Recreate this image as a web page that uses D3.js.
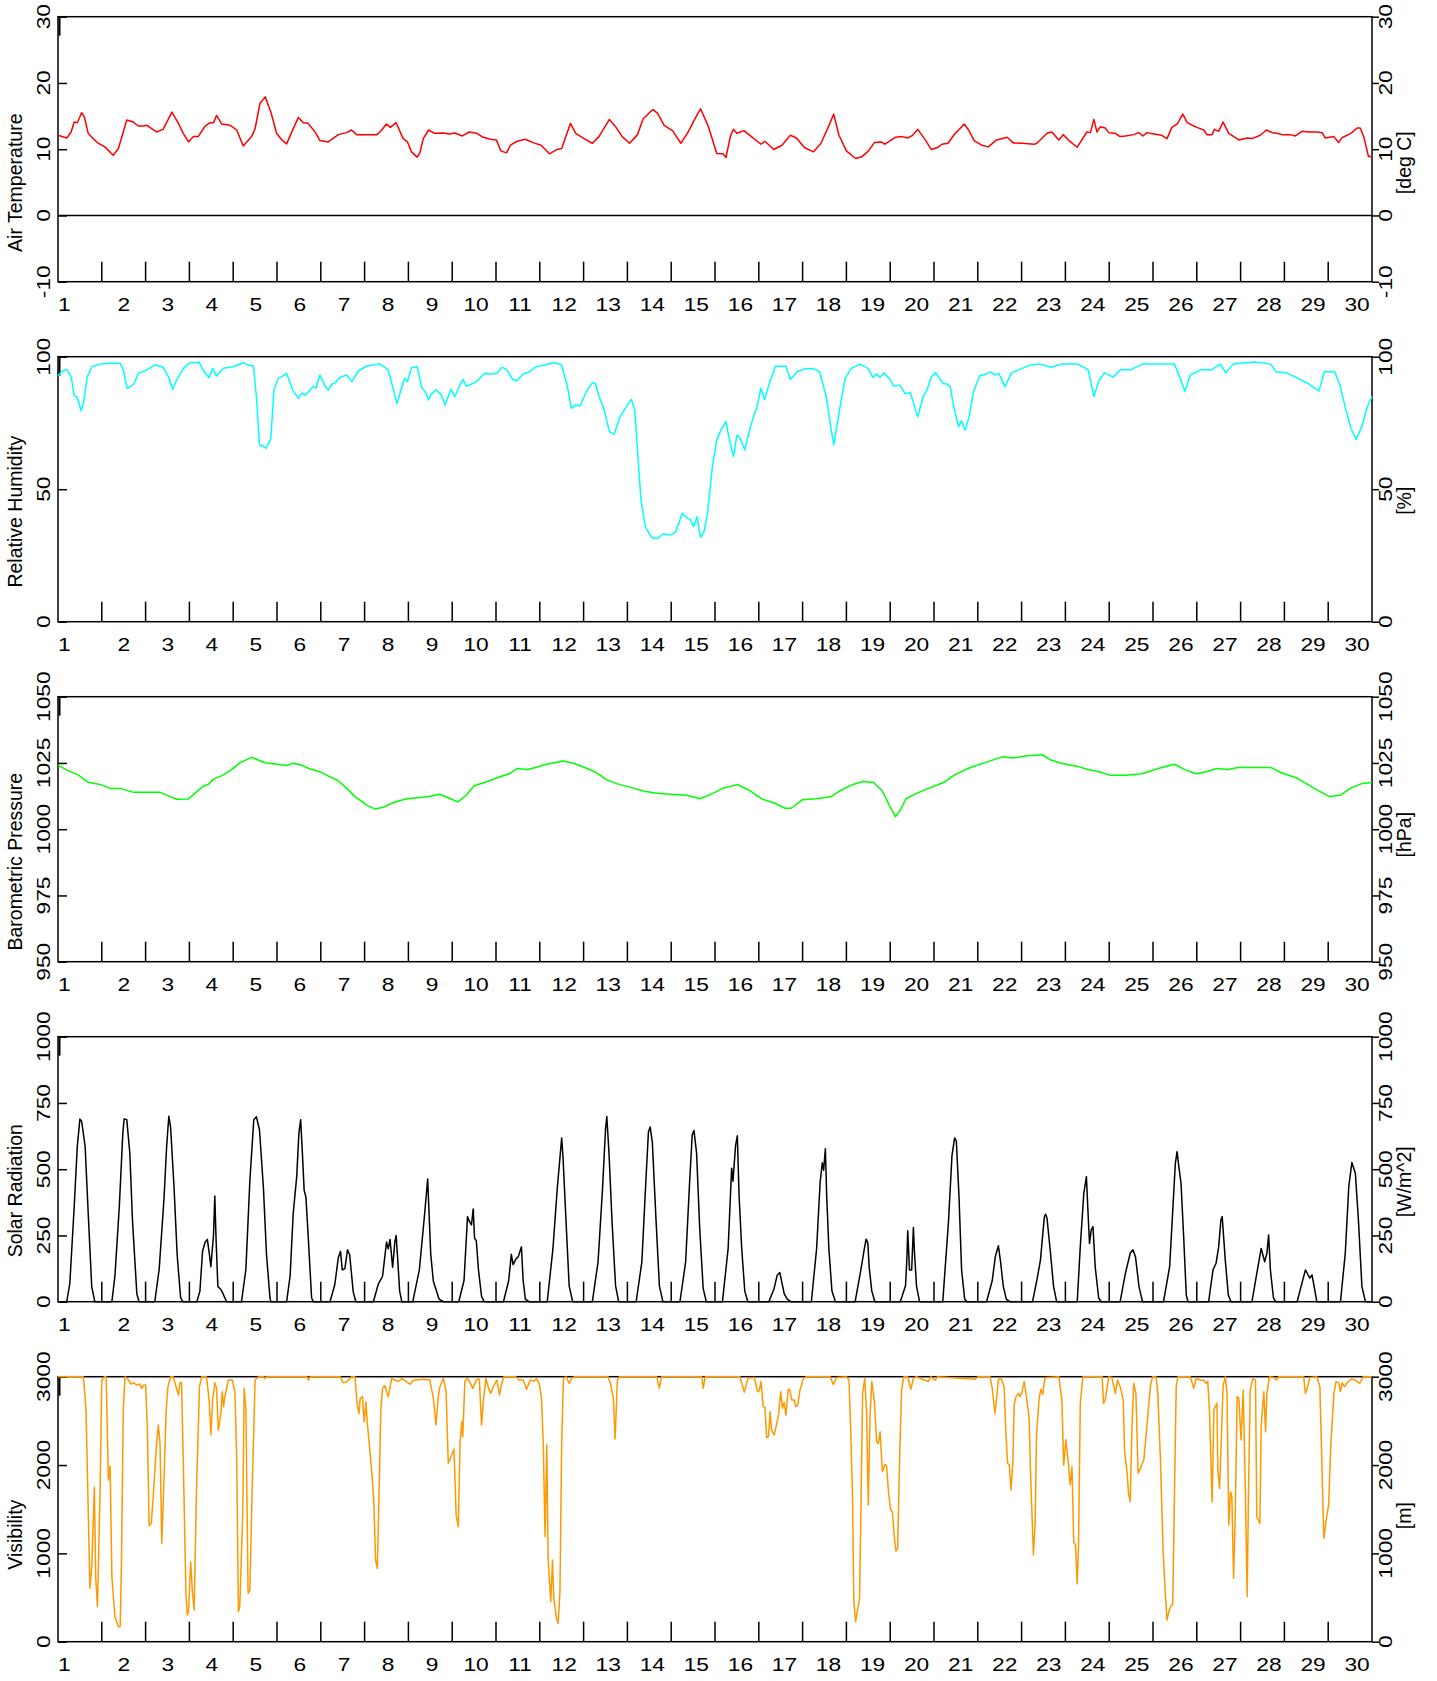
<!DOCTYPE html>
<html>
<head>
<meta charset="utf-8">
<script src="https://cdn.jsdelivr.net/npm/d3@7/dist/d3.min.js"></script>
<style>
  body { margin: 0; background: #fff; }
  svg { display: block; font-family: "Liberation Sans", Arial, sans-serif; }
</style>
</head>
<body>
<div id="chart"></div>
<script>
// time is in days of the month (1.0 = start of day 1)
const days = d3.range(1, 31);

const temperature = [[1.0,12.1],[1.2,11.7],[1.3,12.6],[1.37,14.1],[1.44,14.0],[1.54,15.5],[1.6,14.9],[1.69,12.4],[1.8,11.6],[1.92,10.9],[2.07,10.35],[2.26,9.1],[2.38,10.1],[2.57,14.4],[2.72,14.1],[2.83,13.5],[2.95,13.5],[3.03,13.6],[3.25,12.6],[3.4,13.0],[3.6,15.6],[3.75,13.9],[3.86,12.4],[3.98,11.1],[4.09,11.9],[4.2,11.9],[4.36,13.5],[4.47,14.0],[4.55,14.0],[4.62,15.1],[4.74,13.8],[4.93,13.6],[5.08,12.9],[5.23,10.5],[5.31,11.1],[5.42,11.9],[5.5,13.1],[5.61,16.9],[5.73,17.9],[5.86,15.6],[5.99,12.4],[6.11,11.4],[6.22,10.8],[6.37,13.1],[6.49,14.8],[6.6,14.0],[6.71,13.9],[6.87,12.6],[6.98,11.3],[7.17,11.1],[7.4,12.2],[7.59,12.5],[7.7,12.9],[7.82,12.2],[8.12,12.2],[8.28,12.2],
  [8.35,12.6],[8.5,13.8],[8.59,13.3],[8.72,14.0],[8.88,11.6],[8.98,11.1],[9.07,9.6],[9.2,8.8],[9.26,9.4],[9.34,11.6],[9.46,12.9],[9.6,12.4],[9.79,12.45],[9.94,12.3],[10.06,12.45],[10.23,12.0],[10.39,12.6],[10.56,12.4],[10.71,11.8],[10.87,11.5],[11.01,11.4],[11.11,9.75],[11.24,9.45],[11.33,10.6],[11.48,11.2],[11.67,11.5],[11.86,10.95],[12.03,10.6],[12.22,9.3],[12.39,9.95],[12.5,10.1],[12.7,13.9],[12.82,12.4],[13.01,11.6],[13.2,10.9],[13.35,11.9],[13.59,14.5],[13.73,13.4],[13.88,11.9],[14.05,10.9],[14.23,12.2],[14.36,14.6],[14.58,16.0],[14.69,15.4],[14.84,13.6],[15.03,12.8],[15.22,10.9],[15.37,12.4],[15.56,14.8],[15.67,16.1],[15.85,13.4],[16.04,9.35],[16.18,9.3],[16.25,8.75],[16.35,11.9],[16.42,13.0],[16.5,12.4],[16.66,12.8],[16.81,12.0],[17.05,10.75],[17.14,11.2],[17.34,9.95],[17.53,10.6],[17.72,12.1],[17.86,11.7],[18.04,10.25],[18.25,9.6],[18.42,10.9],[18.59,13.4],[18.71,15.3],[18.83,12.1],[19.0,9.75],[19.21,8.6],[19.35,8.85],[19.5,9.7],[19.64,11.0],[19.79,11.1],[19.88,10.75],[20.12,11.8],[20.27,11.9],[20.41,11.7],[20.51,12.1],[20.63,13.0],[20.8,11.4],[20.94,9.95],[21.08,10.25],[21.18,10.75],[21.32,10.9],[21.47,12.3],[21.59,13.1],[21.69,13.8],[21.79,12.9],[21.92,11.25],[22.09,10.6],[22.24,10.35],[22.43,11.4],[22.67,11.8],[22.81,10.95],[23.01,10.9],[23.29,10.75],
  [23.35,10.9],[23.58,12.4],[23.69,12.6],[23.85,11.4],[23.95,12.2],[24.08,11.3],[24.27,10.3],[24.49,12.6],[24.57,12.5],[24.65,14.5],[24.72,12.6],[24.8,13.4],[24.91,13.2],[24.99,12.5],[25.14,12.4],[25.25,11.9],[25.37,12.0],[25.56,12.2],[25.67,12.5],[25.77,12.0],[25.86,12.5],[26.02,12.3],[26.2,12.1],[26.32,11.6],[26.43,13.3],[26.55,13.8],[26.68,15.3],[26.78,14.0],[26.93,13.5],[27.0,13.3],[27.16,12.9],[27.23,12.2],[27.35,12.2],[27.4,13.0],[27.5,12.7],[27.6,14.1],[27.73,12.4],[27.96,11.4],[28.15,11.7],[28.26,11.6],[28.45,12.1],[28.59,12.9],[28.72,12.5],[28.83,12.4],[28.95,12.2],[29.13,12.2],[29.25,12.0],[29.4,12.7],[29.55,12.6],[29.74,12.6],[29.86,12.5],[29.93,11.7],[30.13,11.9],[30.24,11.0],[30.31,11.7],[30.43,12.1],[30.54,12.5],[30.66,13.2],[30.73,13.2],[30.81,11.9],[30.92,8.9],[31.0,8.9]];

const humidity = [[1.0,92.7],[1.08,94.3],[1.2,95.2],[1.3,92.5],[1.37,85.2],[1.44,84.7],[1.53,79.6],[1.58,82.4],[1.67,92.5],[1.77,96.2],[1.96,97.2],[2.19,97.5],[2.42,97.5],[2.49,95.0],[2.58,88.1],[2.68,88.9],[2.76,90.6],[2.83,93.7],[3.03,95.0],[3.22,96.9],[3.4,96.0],[3.52,92.5],[3.62,87.7],[3.71,91.2],[3.86,95.6],[4.01,97.7],[4.22,97.9],[4.36,93.7],[4.45,92.1],[4.53,95.6],[4.62,92.7],[4.77,95.6],[5.0,96.2],[5.23,97.7],[5.34,96.9],[5.46,96.5],[5.53,84.9],[5.6,66.7],[5.69,66.3],[5.75,65.4],[5.86,69.2],[5.93,87.4],[6.03,91.8],[6.11,92.5],[6.22,93.7],[6.36,87.4],[6.49,84.3],[6.56,86.2],[6.64,85.5],[6.75,87.2],[6.83,88.9],[6.89,88.1],[6.98,93.1],[7.1,88.7],[7.17,87.4],[7.25,89.6],[7.32,90.0],[7.44,92.2],[7.59,93.1],[7.71,90.6],[7.86,94.7],[8.05,96.5],[8.3,97.2],
  [8.35,97.2],[8.54,95.0],[8.74,82.4],[8.91,91.8],[8.98,90.6],[9.07,95.8],[9.2,96.2],[9.31,88.1],[9.39,86.8],[9.46,83.7],[9.51,85.6],[9.63,87.5],[9.75,85.6],[9.84,81.8],[9.97,87.7],[10.06,84.9],[10.18,89.6],[10.25,91.4],[10.32,88.9],[10.47,89.9],[10.56,90.6],[10.73,93.7],[10.87,93.5],[11.02,93.7],[11.14,96.0],[11.24,95.2],[11.38,91.4],[11.47,90.9],[11.62,93.5],[11.76,94.3],[11.91,96.2],[12.1,96.9],[12.34,97.7],[12.5,96.9],[12.63,88.7],[12.72,80.5],[12.82,81.8],[12.92,81.4],[13.06,86.8],[13.2,90.2],[13.27,89.9],[13.35,85.1],[13.46,80.5],[13.59,71.7],[13.7,70.8],[13.83,77.3],[13.97,81.0],[14.09,83.9],[14.17,79.8],[14.23,64.8],[14.31,45.9],[14.41,35.8],[14.55,31.8],[14.69,31.4],[14.81,33.1],[14.98,32.7],[15.11,34.0],[15.25,40.9],[15.37,39.0],[15.44,38.6],[15.51,35.8],[15.59,39.6],[15.67,31.8],[15.75,34.0],[15.83,40.9],[15.94,58.5],[16.04,68.6],[16.13,72.1],[16.25,75.5],[16.33,68.6],[16.42,62.3],[16.5,70.4],[16.57,69.5],[16.68,64.8],[16.79,72.3],[16.89,78.0],[16.95,80.5],[17.05,88.1],[17.13,83.7],[17.24,89.9],[17.38,96.4],[17.62,96.4],[17.72,91.4],[17.88,94.3],[18.06,95.5],[18.25,95.5],[18.39,94.3],[18.54,84.9],[18.63,74.9],[18.71,66.7],[18.83,78.6],[18.97,91.8],[19.11,95.5],[19.31,97.2],[19.5,95.5],[19.6,92.2],[19.69,93.5],[19.77,92.2],[19.86,93.9],[19.98,91.8],[20.08,88.9],[20.22,89.3],[20.34,86.1],[20.46,86.4],[20.63,77.3],[20.75,84.9],[20.84,87.4],[20.94,92.4],[21.04,93.9],[21.21,89.9],[21.31,89.6],[21.37,88.7],[21.45,81.1],[21.56,73.6],[21.63,75.8],[21.71,72.3],[21.8,77.3],[21.9,86.8],[22.04,92.7],[22.19,93.5],[22.29,94.3],[22.4,93.1],[22.48,93.7],[22.62,88.7],[22.77,93.9],[22.96,95.2],[23.2,96.9],[23.42,97.2],
  [23.67,96.0],[23.91,97.2],[24.28,97.2],[24.52,95.1],[24.65,85.0],[24.77,91.1],[24.89,93.9],[25.09,92.3],[25.26,95.1],[25.5,95.1],[25.75,97.2],[26.12,97.2],[26.49,97.2],[26.61,92.3],[26.73,87.0],[26.85,93.1],[27.1,95.1],[27.34,95.1],[27.54,97.2],[27.66,93.9],[27.83,97.2],[28.32,98.0],[28.69,97.2],[28.81,94.3],[29.05,93.9],[29.3,91.9],[29.54,89.9],[29.79,87.0],[29.91,94.3],[30.15,94.3],[30.27,89.1],[30.4,80.2],[30.52,72.9],[30.64,68.8],[30.77,73.7],[30.89,81.0],[31.0,85.0]];

const pressure = [[1.0,1024.2],[1.2,1022.3],[1.46,1020.5],[1.69,1017.7],[1.96,1016.9],[2.19,1015.4],[2.42,1015.4],[2.72,1013.9],[3.03,1013.9],[3.33,1013.9],[3.56,1012.3],[3.71,1011.3],[3.98,1011.4],[4.17,1014.2],[4.32,1016.3],[4.43,1016.9],[4.55,1018.9],[4.74,1020.2],[4.93,1022.1],[5.16,1025.1],[5.42,1027.1],[5.73,1025.1],[5.95,1024.6],[6.22,1024.0],[6.36,1024.9],[6.56,1024.2],[6.75,1022.7],[6.98,1021.7],[7.17,1020.1],[7.4,1018.3],[7.59,1015.4],[7.78,1012.3],[8.05,1009.1],[8.24,1007.6],[8.43,1008.3],[8.62,1009.8],[8.81,1010.8],[8.98,1011.5],[9.47,1012.3],[9.71,1013.2],[9.96,1011.5],[10.13,1010.3],[10.32,1012.8],[10.5,1016.4],[10.74,1017.6],[11.06,1019.6],[11.3,1020.9],[11.48,1022.9],[11.72,1022.5],[11.91,1023.3],[12.16,1024.5],[12.53,1025.7],[12.77,1024.9],[13.02,1023.3],[13.26,1021.7],[13.51,1018.8],[13.75,1017.2],[14.12,1015.6],[14.36,1014.4],[14.66,1013.6],[14.98,1013.2],[15.35,1012.8],[15.66,1011.5],[15.96,1013.6],[16.2,1015.6],[16.52,1016.8],[16.81,1014.4],[17.06,1011.5],[17.35,1009.9],[17.6,1007.9],[17.74,1007.9],[17.99,1011.1],[18.33,1011.5],[18.65,1012.3],[18.89,1014.8],[19.14,1016.8],[19.38,1018.0],[19.62,1017.6],[19.82,1014.4],[19.99,1008.7],[20.12,1004.7],[20.24,1007.5],[20.36,1011.5],[20.61,1013.6],[20.85,1015.2],[21.22,1017.6],[21.46,1020.4],[21.83,1023.3],[22.2,1025.3],[22.56,1027.3],[22.81,1026.9],[23.13,1027.7],[23.47,1028.1],[23.67,1026.1],[23.91,1024.9],[24.28,1023.7],[24.52,1022.5],[24.77,1021.7],[25.01,1020.4],[25.38,1020.4],[25.75,1020.9],[26.12,1022.9],[26.49,1024.5],[26.73,1022.5],[26.98,1020.9],[27.22,1021.7],[27.46,1022.9],[27.71,1022.5],[27.95,1023.3],[28.32,1023.3],[28.69,1023.3],[28.93,1021.3],[29.3,1019.2],[29.66,1015.6],[30.03,1012.3],[30.27,1012.8],[30.52,1015.6],[30.77,1017.2],[31.0,1017.6]];

const solar = [[1.0,0],[1.2,0],[1.27,69],[1.37,359],[1.44,585],[1.5,689],[1.54,681],[1.62,585],[1.69,333],[1.77,57],[1.84,0],
  [2.23,0],[2.3,98],[2.4,359],[2.48,636],[2.51,690],[2.57,687],[2.64,560],[2.7,308],[2.8,30],[2.85,0],
  [3.21,0],[3.31,123],[3.42,388],[3.48,585],[3.53,700],[3.57,660],[3.65,430],[3.72,178],[3.8,14],[3.85,0],
  [4.17,0],[4.24,40],[4.3,190],[4.36,225],[4.41,235],[4.46,175],[4.49,132],[4.55,250],[4.58,399],[4.61,230],[4.65,57],[4.7,50],[4.74,40],[4.85,0],
  [5.19,0],[5.29,123],[5.38,455],[5.47,687],[5.53,698],[5.6,649],[5.69,430],[5.76,178],[5.84,14],[5.86,0],
  [6.22,0],[6.3,98],[6.37,333],[6.45,472],[6.5,636],[6.54,687],[6.58,560],[6.62,420],[6.66,395],[6.71,254],[6.79,14],[6.83,0],
  [7.21,0],[7.32,65],[7.4,166],[7.45,190],[7.49,120],[7.55,125],[7.61,196],[7.66,176],[7.74,37],[7.8,0],
  [8.2,0],[8.31,65],[8.41,96],[8.5,225],[8.54,200],[8.58,235],[8.64,130],[8.69,225],[8.72,250],[8.76,150],[8.8,40],[8.85,0],
  [9.1,0],[9.25,120],[9.37,330],[9.44,463],[9.48,300],[9.51,179],[9.57,77],[9.7,10],[9.8,0],
  [10.15,0],[10.27,80],[10.35,321],[10.4,300],[10.44,290],[10.48,350],[10.51,240],[10.55,230],[10.6,120],[10.67,20],[10.73,0],
  [11.17,0],[11.29,80],[11.35,179],[11.39,140],[11.45,160],[11.51,170],[11.58,207],[11.62,80],[11.67,10],[11.75,0],
  [12.17,0],[12.3,200],[12.4,430],[12.5,618],[12.53,545],[12.6,300],[12.67,60],[12.75,0],
  [13.2,0],[13.33,150],[13.43,420],[13.5,650],[13.53,699],[13.58,560],[13.65,300],[13.73,60],[13.8,0],
  [14.2,0],[14.33,150],[14.42,450],[14.48,640],[14.52,659],[14.57,600],[14.65,320],[14.73,60],[14.81,0],
  [15.2,0],[15.33,150],[15.42,450],[15.48,630],[15.52,646],[15.58,560],[15.65,280],[15.73,50],[15.8,0],
  [16.17,0],[16.3,200],[16.38,504],[16.41,455],[16.47,590],[16.51,626],[16.55,400],[16.61,200],[16.68,40],[16.75,0],
  [17.23,0],[17.35,50],[17.42,100],[17.48,110],[17.53,70],[17.58,30],[17.65,10],[17.73,0],
  [18.2,0],[18.32,200],[18.4,450],[18.45,524],[18.48,496],[18.52,577],[18.55,400],[18.6,200],[18.67,40],[18.75,0],
  [19.2,0],[19.33,120],[19.41,200],[19.45,236],[19.49,220],[19.52,130],[19.58,40],[19.65,0],
  [20.23,0],[20.35,60],[20.38,158],[20.4,268],[20.44,120],[20.49,120],[20.53,280],[20.55,199],[20.6,60],[20.67,0],
  [21.2,0],[21.33,300],[21.41,550],[21.47,618],[21.51,606],[21.57,400],[21.63,120],[21.7,10],[21.75,0],
  [22.2,0],[22.33,80],[22.4,170],[22.47,211],[22.52,150],[22.58,60],[22.65,10],[22.73,0],
  [23.25,0],[23.35,82],[23.43,157],[23.52,321],[23.55,330],[23.58,315],[23.66,183],[23.73,57],[23.8,0],
  [24.27,0],[24.34,208],[24.42,409],[24.48,472],[24.51,359],[24.55,220],[24.59,271],[24.63,283],[24.68,132],[24.76,14],[24.82,0],
  [25.25,0],[25.37,107],[25.48,183],[25.54,196],[25.6,170],[25.68,57],[25.76,0],
  [26.24,0],[26.38,132],[26.46,371],[26.51,522],[26.55,566],[26.59,510],[26.64,447],[26.7,245],[26.76,25],[26.8,0],
  [27.27,0],[27.37,120],[27.44,145],[27.5,208],[27.55,308],[27.58,321],[27.65,157],[27.72,25],[27.78,0],
  [28.26,0],[28.37,107],[28.47,201],[28.55,151],[28.6,183],[28.64,252],[28.68,120],[28.75,14],[28.8,0],
  [29.29,0],[29.38,57],[29.48,120],[29.55,98],[29.58,89],[29.63,101],[29.68,57],[29.74,0],
  [30.28,0],[30.39,183],[30.47,434],[30.54,525],[30.62,485],[30.69,308],[30.77,57],[30.85,0],[31.0,0]];

const visibility = [[1.0,3000],[1.58,3000],[1.64,2623],[1.69,1491],[1.73,604],[1.77,849],[1.83,1748],[1.86,736],[1.9,396],[1.96,1680],[2.0,2962],[2.06,3000],[2.1,3000],[2.15,1830],[2.19,1989],[2.23,736],[2.3,283],[2.38,170],[2.42,170],[2.45,925],[2.49,2623],[2.53,3000],[2.6,2970],[2.67,2917],[2.72,2932],[2.8,2906],[2.87,2917],[2.91,2868],[2.96,2906],[3.0,2906],[3.04,2434],[3.08,1313],[3.13,1340],[3.18,1680],[3.24,2170],[3.29,2453],[3.33,2245],[3.37,1114],[3.41,1680],[3.47,2623],[3.51,2887],[3.57,3000],[3.63,3000],[3.75,2793],[3.78,2932],[3.82,2932],[3.86,2057],[3.92,548],[3.95,302],[3.98,340],[4.03,906],[4.07,548],[4.11,359],[4.16,1680],[4.23,2887],[4.28,3000],[4.39,3000],[4.45,2736],[4.49,2340],[4.53,2736],[4.58,2932],[4.62,2868],[4.66,2396],[4.72,2585],[4.75,2830],[4.78,2660],[4.81,2774],[4.89,2962],[4.98,2962],[5.04,2830],[5.08,2057],[5.12,340],[5.15,396],[5.22,1491],[5.25,2868],[5.29,2623],[5.34,548],[5.38,585],[5.44,1868],[5.5,2962],[5.58,3000],[5.7,3000],[5.73,2977],[5.76,3000],[6.68,3000],[6.72,2962],[6.76,3000],[7.44,3000],[7.51,2932],[7.59,2940],[7.7,3000],[7.78,3000],[7.83,2679],[7.87,2585],[7.9,2755],[7.95,2774],[7.99,2490],[8.03,2717],[8.06,2490],[8.16,1944],[8.21,1604],[8.25,925],[8.29,830],[8.33,1680],[8.37,2623],
  [8.41,2868],[8.46,2900],[8.54,2774],[8.62,2982],[8.69,2962],[8.77,2945],[8.85,2980],[9.04,2913],[9.11,2960],[9.34,2970],[9.49,2962],[9.57,2755],[9.63,2453],[9.68,2760],[9.72,2887],[9.8,2982],[9.86,2830],[9.91,2020],[9.99,2113],[10.04,2180],[10.09,1434],[10.14,1302],[10.18,2264],[10.22,2491],[10.24,2321],[10.29,2951],[10.35,2981],[10.41,2930],[10.47,2868],[10.56,2970],[10.62,2970],[10.67,2453],[10.71,2717],[10.77,2981],[10.83,2868],[10.88,2811],[10.95,2900],[11.02,2960],[11.08,2793],[11.13,2920],[11.18,3000],[11.45,3000],[11.53,2962],[11.62,2962],[11.7,2858],[11.78,2962],[11.86,2950],[11.93,2975],[11.99,2913],[12.04,2755],[12.08,2227],[12.12,1189],[12.16,2227],[12.19,944],[12.25,453],[12.29,925],[12.32,491],[12.38,265],[12.42,208],[12.46,566],[12.5,2264],[12.54,2981],[12.6,3000],[12.67,2925],[12.73,2985],[12.8,3000],[13.56,3000],[13.62,2906],[13.68,2755],[13.72,2295],[13.77,2960],[13.82,3000],[14.67,3000],[14.73,2868],[14.78,3000],[15.7,3000],[15.73,2868],[15.78,3000],
  [16.57,3000],[16.67,2823],[16.75,2982],[16.9,2990],[16.97,2830],[17.01,2840],[17.05,2945],[17.1,2661],[17.14,2651],[17.18,2310],[17.22,2321],[17.26,2604],[17.29,2396],[17.35,2340],[17.41,2472],[17.45,2566],[17.5,2830],[17.54,2642],[17.58,2708],[17.62,2566],[17.67,2858],[17.71,2849],[17.75,2736],[17.81,2736],[17.84,2661],[17.89,2680],[17.94,2849],[18.02,2981],[18.09,3000],[18.63,3000],[18.7,2913],[18.78,2990],[19.0,3000],[19.06,2962],[19.1,2377],[19.14,1623],[19.17,453],[19.21,226],[19.26,378],[19.3,491],[19.33,1434],[19.37,2811],[19.42,2981],[19.46,2604],[19.5,1547],[19.54,2566],[19.58,2945],[19.64,2717],[19.69,2264],[19.73,2245],[19.77,2377],[19.82,1925],[19.88,2010],[19.92,1981],[19.96,1698],[20.01,1491],[20.05,1472],[20.09,1208],[20.13,1027],[20.17,1057],[20.22,2189],[20.26,2849],[20.31,3000],[20.4,3000],[20.47,2858],[20.53,2980],[20.6,3000],[20.87,2945],[20.93,3000],[21.02,2960],[21.08,3000],[21.94,2970],[22.0,3000],[22.28,3000],[22.33,2868],[22.39,2585],[22.43,2755],[22.47,2970],[22.54,2975],[22.6,2887],[22.64,2377],[22.68,2020],[22.72,2000],[22.76,1717],[22.8,2038],[22.83,2680],[22.87,2774],[22.93,2811],[22.96,2774],[23.0,2811],[23.06,2945],[23.12,2736],[23.17,2547],[23.21,1812],[23.27,982],[23.31,1359],[23.34,2340],[23.4,2755],[23.44,2858],[23.48,2800],[23.53,2981],
  [23.58,2990],[23.85,3000],[23.92,2736],[23.96,1998],[24.01,2287],[24.06,2057],[24.11,1774],[24.15,1981],[24.19,1132],[24.23,1094],[24.27,653],[24.3,1113],[24.34,2698],[24.4,3000],[24.84,3000],[24.87,2698],[24.91,2736],[24.99,3000],[25.06,2990],[25.14,2811],[25.19,2962],[25.25,2887],[25.32,2736],[25.35,2170],[25.41,1906],[25.44,1680],[25.48,1585],[25.52,2434],[25.56,2925],[25.61,2811],[25.66,1906],[25.71,1962],[25.79,2057],[25.86,2434],[25.94,2887],[25.99,3000],[26.07,3000],[26.11,2811],[26.17,2057],[26.23,1038],[26.28,547],[26.32,246],[26.37,359],[26.42,415],[26.45,415],[26.49,1680],[26.53,2887],[26.57,3000],[26.85,3000],[26.93,2868],[26.99,2985],[27.08,2960],[27.16,2960],[27.21,2925],[27.25,2950],[27.29,2604],[27.35,1585],[27.39,2623],[27.42,2660],[27.46,2698],[27.48,1943],[27.52,1736],[27.56,2283],[27.6,2887],[27.65,3000],[27.69,2811],[27.73,1321],[27.77,1698],[27.8,1642],[27.84,717],[27.88,1491],[27.92,2774],[27.96,2755],[28.01,2283],[28.06,2849],[28.11,1680],[28.15,510],[28.18,1680],[28.22,2849],[28.28,2981],[28.34,2960],[28.37,1415],[28.44,1340],[28.47,2434],[28.53,2830],[28.57,2377],[28.6,2811],[28.66,3000],[28.76,2990],[28.82,2962],[28.87,3000],[29.44,3000],[29.48,2811],[29.53,2887],[29.58,2990],[29.74,3000],[29.81,2887],[29.9,1170],[29.96,1396],[30.01,1547],[30.06,2227],[30.13,2811],[30.18,2943],[30.24,2930],[30.28,2830],[30.32,2930],[30.37,2887],[30.45,2940],[30.54,2975],[30.62,2960],[30.72,2925],[30.8,3000],[31.0,3000]];

// panel setup (one per variable, stacked)
const titles = ['Air Temperature', 'Relative Humidity', 'Barometric Pressure', 'Solar Radiation', 'Visibility'];
const units = ['[deg C]', '[%]', '[hPa]', '[W/m^2]', '[m]'];
const series = [temperature, humidity, pressure, solar, visibility];
const colors = ['#ff0000', '#00ffff', '#00ff00', '#000000', '#ff9900'];
const domains = [[-10, 30], [0, 100], [950, 1050], [0, 1000], [0, 3000]];
const yTicks = [[-10, 0, 10, 20, 30], [0, 50, 100], [950, 975, 1000, 1025, 1050], [0, 250, 500, 750, 1000], [0, 1000, 2000, 3000]];

const width = 1437, height = 1681;
const margin = {left: 58, right: 65};
const panelTop = 16.7, panelStep = 340, panelH = 265;
const titleOffset = [166, 155, 165, 154, 158];
const unitOffset = [146, 144, 138, 145, 139];

const svg = d3.select('#chart').append('svg')
    .attr('width', width)
    .attr('height', height);

const x = d3.scaleLinear()
    .domain([1, 31])
    .range([margin.left, width - margin.right]);

const x0 = x.range()[0], x1 = x.range()[1];

// day labels sit near noon but drift a little to the right along the axis
const xLabel = d3.scaleLinear()
    .domain([2, 30])
    .range([x(2.5), x(30.5) + 7]);

series.forEach((data, i) => {
  const top = panelTop + i * panelStep;
  const bottom = top + panelH;
  const y = d3.scaleLinear()
      .domain(domains[i])
      .range([bottom, top]);

  const g = svg.append('g');

  // frame
  g.append('rect')
    .attr('x', x0).attr('y', top)
    .attr('width', x1 - x0).attr('height', panelH)
    .attr('fill', 'none')
    .attr('stroke', '#000')
    .attr('stroke-width', 1.5);

  // zero line for temperature
  if (domains[i][0] < 0) {
    g.append('line')
      .attr('x1', x0).attr('x2', x1)
      .attr('y1', y(0)).attr('y2', y(0))
      .attr('stroke', '#000').attr('stroke-width', 1.5);
  }

  // little mark at top left
  g.append('line')
    .attr('x1', x0 + 1.5).attr('x2', x0 + 1.5)
    .attr('y1', top).attr('y2', top + 19)
    .attr('stroke', '#000').attr('stroke-width', 2);

  // day boundary ticks
  g.selectAll('.day-tick')
    .data(days.slice(1))
    .join('line')
      .attr('x1', d => x(d)).attr('x2', d => x(d))
      .attr('y1', bottom).attr('y2', bottom - 20)
      .attr('stroke', '#000').attr('stroke-width', 1.5);

  // y axes: ticks only, labels drawn rotated below
  g.append('g')
    .attr('transform', `translate(${x0},0)`)
    .call(d3.axisRight(y).tickValues(yTicks[i]).tickSize(9).tickFormat(''))
    .call(a => a.select('.domain').remove())
    .call(a => a.selectAll('line').attr('stroke-width', 1.5));
  g.append('g')
    .attr('transform', `translate(${x1},0)`)
    .call(d3.axisRight(y).tickValues(yTicks[i]).tickSize(7).tickFormat(''))
    .call(a => a.select('.domain').remove())
    .call(a => a.selectAll('line').attr('stroke-width', 1.5));

  [x0 - 8, x1 + 20].forEach(tx => {
    g.selectAll(null)
      .data(yTicks[i])
      .join('text')
        .attr('transform', d => `translate(${tx},${y(d)}) rotate(-90) scale(1.3,1)`)
        .attr('text-anchor', 'middle')
        .attr('font-size', '17.5px')
        .attr('fill', '#000')
        .text(d => d);
  });

  // day labels
  g.selectAll('.day-label')
    .data(days)
    .join('text')
      .attr('transform', d => d === 1
        ? `translate(${x0},${bottom + 29}) scale(1.3,1)`
        : `translate(${xLabel(d)},${bottom + 29}) scale(1.3,1)`)
      .attr('text-anchor', d => d === 1 ? 'start' : 'middle')
      .attr('font-size', '17.5px')
      .text(d => d);

  // axis titles
  g.append('text')
    .attr('transform', `translate(22,${top + titleOffset[i]}) rotate(-90)`)
    .attr('text-anchor', 'middle')
    .attr('font-size', '19.5px')
    .text(titles[i]);
  g.append('text')
    .attr('transform', `translate(1411,${top + unitOffset[i]}) rotate(-90)`)
    .attr('text-anchor', 'middle')
    .attr('font-size', '19.5px')
    .text(units[i]);

  // the series
  const line = d3.line()
      .x(d => x(d[0]))
      .y(d => y(d[1]));
  g.append('path')
    .datum(data)
    .attr('fill', 'none')
    .attr('stroke', colors[i])
    .attr('stroke-width', 1.5)
    .attr('stroke-linejoin', 'round')
    .attr('d', line);
});
</script>
</body>
</html>
